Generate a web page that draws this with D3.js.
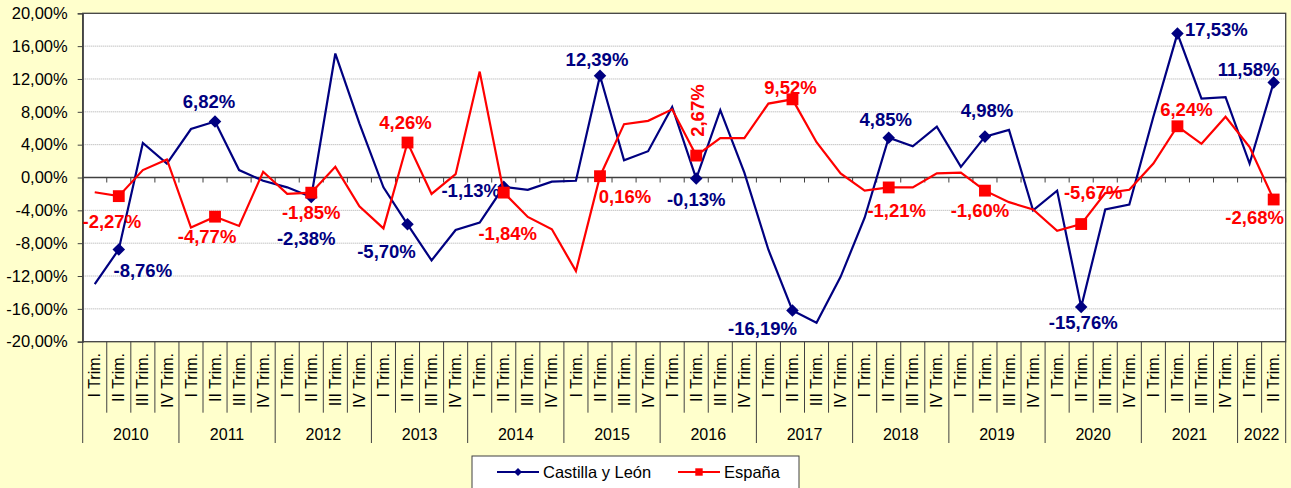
<!DOCTYPE html>
<html>
<head>
<meta charset="utf-8">
<script src="https://cdn.jsdelivr.net/npm/d3@7"></script>
<style>
  body { margin: 0; background: #ffffcc; }
  svg { display: block; font-family: Arial, "Liberation Sans", sans-serif; }
</style>
</head>
<body>
<div class="graph"></div>
<script>
// categories
const years = ["2010", "2011", "2012", "2013", "2014", "2015", "2016", "2017", "2018", "2019", "2020", "2021", "2022"];
const quarters = ["I Trim.", "II Trim.", "III Trim.", "IV Trim."];
const nPeriods = 50; // 2010 I Trim. .. 2022 II Trim.

// series values (% variación)
const castillaLeon = [
  -13.0, -8.76, 4.2, 1.7,
  5.9, 6.82, 0.9, -0.4,
  -1.2, -2.38, 15.1, 6.6,
  -1.2, -5.70, -10.1, -6.4,
  -5.5, -1.13, -1.5, -0.5,
  -0.4, 12.39, 2.1, 3.2,
  8.6, -0.13, 8.2, 0.6,
  -8.8, -16.19, -17.7, -12.1,
  -4.9, 4.85, 3.8, 6.2,
  1.3, 4.98, 5.8, -4.0,
  -1.6, -15.76, -3.9, -3.3,
  7.4, 17.53, 9.6, 9.8,
  1.7, 11.58
];
const espana = [
  -1.8, -2.27, 0.9, 2.2,
  -6.1, -4.77, -5.9, 0.7,
  -2.0, -1.85, 1.3, -3.5,
  -6.2, 4.26, -2.0, 0.4,
  12.9, -1.84, -4.8, -6.3,
  -11.4, 0.16, 6.5, 6.9,
  8.3, 2.67, 4.8, 4.8,
  9.0, 9.52, 4.3, 0.5,
  -1.6, -1.21, -1.2, 0.5,
  0.6, -1.60, -3.0, -3.9,
  -6.5, -5.67, -1.9, -1.5,
  1.7, 6.24, 4.1, 7.4,
  3.7, -2.68
];
const yTicks = [-20, -16, -12, -8, -4, 0, 4, 8, 12, 16, 20];

// label nudges for the II Trim. points (dx, dy from the marker), hand placed like in the sheet
const cylLabelNudge = [[24, 21], [-6, -20], [-5, 41], [-21, 27], [-33, 4], [-3, -16], [0, 21],
  [-30, 18], [-3, -18], [2, -26], [2, 16], [39, -4], [-25, -13]];
const espLabelNudge = [[-7, 25], [-8, 20], [0, 20], [-2, -20], [4, 41], [25, 20], [1, -45],
  [-2, -12], [8, 23], [-5, 20], [12, -32], [9, -17], [-19, 18]];

const width = 1291;
const height = 488;
const plot = { left: 82.7, right: 1285.7, top: 13.3, bottom: 341.7 };

const periods = years.flatMap((yr) => quarters.map((q) => ({ year: yr, q }))).slice(0, nPeriods);
periods.forEach((p, i) => { p.i = i; p.cyl = castillaLeon[i]; p.esp = espana[i]; });

const x = d3.scaleBand().domain(d3.range(nPeriods)).range([plot.left, plot.right]).padding(0);
const cx = (i) => x(i) + x.bandwidth() / 2;
const y = d3.scaleLinear().domain([-20, 20]).range([plot.bottom, plot.top]);

const fmt = (v) => v.toFixed(2).replace(".", ",") + "%";

const svg = d3.select(".graph").append("svg")
  .attr("width", width)
  .attr("height", height)
  .attr("viewBox", [0, 0, width, height]);

svg.append("rect").attr("width", width).attr("height", height).attr("fill", "#ffffcc");

// plot area
svg.append("rect")
  .attr("x", plot.left).attr("y", plot.top)
  .attr("width", plot.right - plot.left).attr("height", plot.bottom - plot.top)
  .attr("fill", "#ffffff");

// grid
svg.append("g")
  .selectAll("line")
  .data(yTicks.filter((t) => t !== 0 && t !== -20 && t !== 20))
  .join("line")
  .attr("x1", plot.left).attr("x2", plot.right)
  .attr("y1", (d) => y(d)).attr("y2", (d) => y(d))
  .attr("stroke", "#a8a8a8")
  .attr("stroke-width", 1)
  .attr("stroke-dasharray", "1,1");

svg.append("rect")
  .attr("x", plot.left).attr("y", plot.top)
  .attr("width", plot.right - plot.left).attr("height", plot.bottom - plot.top)
  .attr("fill", "none")
  .attr("stroke", "#404040")
  .attr("stroke-width", 1.3);

// y axis
const yAxis = svg.append("g")
  .attr("transform", `translate(${plot.left},0)`)
  .call(d3.axisLeft(y).tickValues(yTicks).tickFormat(fmt).tickSize(5).tickPadding(10));
yAxis.select(".domain").attr("stroke", "#404040").attr("stroke-width", 1.3);
yAxis.selectAll(".tick line").attr("stroke", "#404040");
yAxis.selectAll("text").attr("font-size", "16.5px").attr("fill", "#000")
  .attr("font-family", "Arial, 'Liberation Sans', sans-serif");

// zero line with category ticks
const bounds = d3.range(nPeriods + 1).map((i) => (i < nPeriods ? x(i) : plot.right));
svg.append("line")
  .attr("x1", plot.left).attr("x2", plot.right)
  .attr("y1", y(0)).attr("y2", y(0))
  .attr("stroke", "#404040").attr("stroke-width", 1.3);
svg.append("g")
  .selectAll("line")
  .data(bounds)
  .join("line")
  .attr("x1", (d) => d).attr("x2", (d) => d)
  .attr("y1", y(0)).attr("y2", y(0) + 5)
  .attr("stroke", "#404040");

// category labels below the plot
const catG = svg.append("g");
catG.selectAll("line")
  .data(bounds)
  .join("line")
  .attr("x1", (d) => d).attr("x2", (d) => d)
  .attr("y1", plot.bottom)
  .attr("y2", (d, i) => (i % 4 === 0 || i === nPeriods ? 443 : 412.7))
  .attr("stroke", "#404040")
  .attr("stroke-width", 1);

catG.selectAll("text")
  .data(periods)
  .join("text")
  .attr("transform", (d) => `translate(${cx(d.i)},353) rotate(-90)`)
  .attr("text-anchor", "end")
  .attr("dy", "0.35em")
  .attr("font-size", "16px")
  .attr("fill", "#000")
  .text((d) => d.q);

const yearGroups = d3.groups(periods, (d) => d.year);
svg.append("g")
  .selectAll("text")
  .data(yearGroups)
  .join("text")
  .attr("x", ([, ps]) => (x(ps[0].i) + x(ps[ps.length - 1].i) + x.bandwidth()) / 2)
  .attr("y", 434)
  .attr("dy", "0.35em")
  .attr("text-anchor", "middle")
  .attr("font-size", "16px")
  .attr("fill", "#000")
  .text(([yr]) => yr);

// series
const blue = "#000080";
const red = "#ff0000";
const diamond = d3.symbol().type(d3.symbolDiamond2);
const square = d3.symbol().type(d3.symbolSquare);

const drawSeries = (key, color, sym, symSize, nudges) => {
  const line = d3.line().x((d) => cx(d.i)).y((d) => y(d[key]));
  svg.append("path")
    .datum(periods)
    .attr("fill", "none")
    .attr("stroke", color)
    .attr("stroke-width", 2.2)
    .attr("stroke-linejoin", "miter")
    .attr("d", line);

  const marked = periods.filter((d) => d.i % 4 === 1);
  svg.append("g")
    .selectAll("path")
    .data(marked)
    .join("path")
    .attr("transform", (d) => `translate(${cx(d.i)},${y(d[key])})`)
    .attr("d", sym.size(symSize)())
    .attr("fill", color);

  svg.append("g")
    .selectAll("text")
    .data(marked)
    .join("text")
    .attr("transform", (d, k) => {
      const [dx, dy] = nudges[k];
      const rot = key === "esp" && d.year === "2016" ? " rotate(-90)" : "";
      return `translate(${cx(d.i) + dx},${y(d[key]) + dy})${rot}`;
    })
    .attr("text-anchor", "middle")
    .attr("dy", "0.35em")
    .attr("font-size", "18.5px")
    .attr("font-weight", "bold")
    .attr("fill", color)
    .text((d) => fmt(d[key]));
};

drawSeries("cyl", blue, diamond, 100, cylLabelNudge);
drawSeries("esp", red, square, 140, espLabelNudge);

// legend
const legend = svg.append("g");
legend.append("rect")
  .attr("x", 472).attr("y", 456).attr("width", 327).attr("height", 40)
  .attr("fill", "#ffffff").attr("stroke", "#404040").attr("stroke-width", 1);
const legendItems = [
  { name: "Castilla y León", color: blue, sym: diamond, size: 40, x0: 497 },
  { name: "España", color: red, sym: square, size: 55, x0: 678 },
];
const li = legend.selectAll("g.item").data(legendItems).join("g").attr("class", "item");
li.append("line")
  .attr("x1", (d) => d.x0).attr("x2", (d) => d.x0 + 42)
  .attr("y1", 472).attr("y2", 472)
  .attr("stroke", (d) => d.color).attr("stroke-width", 2.2);
li.append("path")
  .attr("transform", (d) => `translate(${d.x0 + 21},472)`)
  .attr("d", (d) => d.sym.size(d.size)())
  .attr("fill", (d) => d.color);
li.append("text")
  .attr("x", (d) => d.x0 + 46).attr("y", 472).attr("dy", "0.35em")
  .attr("font-size", "16.5px").attr("fill", "#000")
  .text((d) => d.name);
</script>
</body>
</html>
